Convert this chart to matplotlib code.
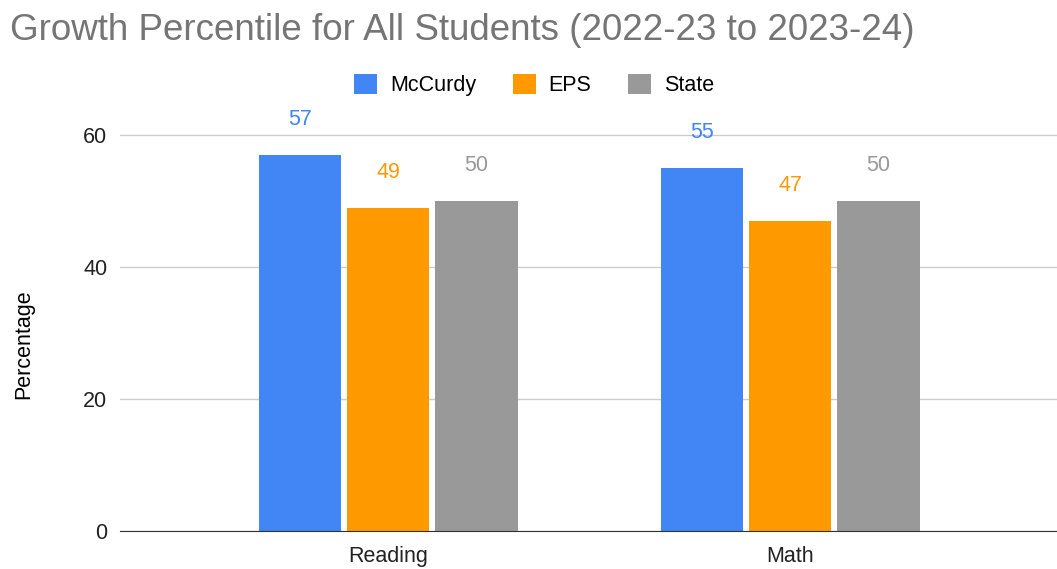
import numpy as np
import matplotlib
matplotlib.use("Agg")
import matplotlib.pyplot as plt

plt.rcParams['font.family'] = ['Liberation Sans', 'DejaVu Sans']

categories = ["Reading", "Math"]
series_names = ["McCurdy", "EPS", "State"]
mccurdy = [57, 55]
eps = [49, 47]
state = [50, 50]
colors = ["#4285F4", "#FF9900", "#999999"]

fig = plt.figure(figsize=(10.57, 5.69), dpi=100)
ax = fig.add_axes([0.1135, 0.0668, 0.8865, 0.812])

x = np.arange(len(categories))
width = 0.206
step = 0.219
for i, (vals, name, c) in enumerate(zip([mccurdy, eps, state], series_names, colors)):
    pos = x + (i - 1) * step
    ax.bar(pos, vals, width, color=c, label=name, zorder=3)
    for p, v in zip(pos, vals):
        ax.text(p, v + 5.3, str(v), ha="center", va="center", color=c, fontsize=15.5)

ax.set_xlim(-0.667, 1.664)
ax.set_ylim(0, 70)
ax.set_yticks([0, 20, 40, 60])
ax.set_xticks(x)
ax.set_xticklabels(categories)
ax.tick_params(axis="both", length=0, labelsize=15.5, colors="#222222")
ax.tick_params(axis="y", pad=9)
ax.tick_params(axis="x", pad=11)
ax.grid(axis="y", color="#cccccc", linewidth=1, zorder=0)
for s in ["top", "right", "left"]:
    ax.spines[s].set_visible(False)
ax.spines["bottom"].set_color("#333333")
ax.spines["bottom"].set_zorder(4)
ax.set_ylabel("Percentage", fontsize=15.5)
ax.yaxis.set_label_coords(-0.092, 0.405)

ax.legend(loc="center", bbox_to_anchor=(0.442, 0.965), ncol=3, frameon=False,
          fontsize=15.5, handlelength=1.07, handleheight=1.07, handletextpad=0.6,
          columnspacing=1.7)

fig.text(0.009, 0.947, "Growth Percentile for All Students (2022-23 to 2023-24)",
         fontsize=26.5, color="#757575", ha="left", va="center")

fig.savefig("out.png", dpi=100)
